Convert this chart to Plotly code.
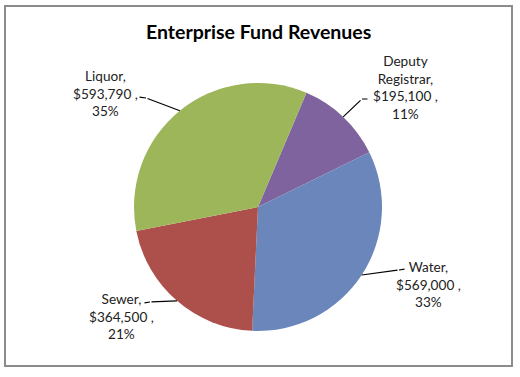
import math
import plotly.graph_objects as go

# ---- data ----
categories = ["Deputy Registrar", "Water", "Sewer", "Liquor"]
values = [195100, 569000, 364500, 593790]
percent_labels = ["11%", "33%", "21%", "35%"]
label_lines = [["Deputy", "Registrar,", "$195,100 ,"], ["Water,", "$569,000 ,"],
               ["Sewer,", "$364,500 ,"], ["Liquor,", "$593,790 ,"]]
colors = ["#7F639E", "#6A86BA", "#AD4F4A", "#9DB65A"]

# ---- layout / style ----
W, H = 520, 377
CX, CY, R = 258, 207, 124          # pie centre and radius in pixels
ROTATION = 23
# label centre (px) and leader tail (px) per category
label_pos = {"Deputy Registrar": (405, 87), "Water": (428, 284),
             "Sewer": (121, 316), "Liquor": (105, 94)}
leader_tail = {"Deputy Registrar": (369, 99), "Water": (406, 269),
               "Sewer": (143, 303), "Liquor": (138, 97)}
leader_knee = {"Deputy Registrar": (362, 99), "Water": (399, 270),
               "Sewer": (150, 302), "Liquor": (146, 98)}
FONT = "Lato, 'Open Sans', sans-serif"
TXT = "#222222"

fig = go.Figure(go.Pie(
    labels=categories, values=values, sort=False, direction="clockwise",
    rotation=ROTATION, marker=dict(colors=colors, line=dict(width=0)),
    textinfo="none", hoverinfo="label+value+percent", showlegend=False,
    domain=dict(x=[(CX - R) / W, (CX + R) / W], y=[1 - (CY + R) / H, 1 - (CY - R) / H]),
))

def px(x, y):
    return x / W, 1 - y / H

total = sum(values)
annotations = []
cum = 0
for cat, v, lines, pct in zip(categories, values, label_lines, percent_labels):
    mid = ROTATION + 360 * (cum + v / 2) / total
    cum += v
    ex = CX + R * math.sin(math.radians(mid))
    ey = CY - R * math.cos(math.radians(mid))
    kx, ky = leader_knee[cat]
    tx, ty = leader_tail[cat]
    x0, y0 = px(ex, ey)
    annotations.append(dict(x=x0, y=y0, xref="paper", yref="paper", text="",
                            showarrow=True, arrowhead=0, arrowwidth=1.2, arrowcolor="#000",
                            ax=kx - ex, ay=ky - ey))
    x1, y1 = px(kx, ky)
    annotations.append(dict(x=x1, y=y1, xref="paper", yref="paper", text="",
                            showarrow=True, arrowhead=0, arrowwidth=1.2, arrowcolor="#000",
                            ax=tx - kx, ay=ty - ky))
    lx, ly = label_pos[cat]
    x2, y2 = px(lx, ly)
    annotations.append(dict(x=x2, y=y2, xref="paper", yref="paper",
                            text="<br>".join(lines + [pct]), showarrow=False,
                            xanchor="center", yanchor="middle", align="center",
                            font=dict(family=FONT, size=13.6, color=TXT)))

annotations.append(dict(x=CX / W, y=1 - 31 / H, xref="paper", yref="paper",
                        text="<b>Enterprise Fund Revenues</b>", showarrow=False,
                        xanchor="center", yanchor="middle",
                        font=dict(family=FONT, size=19.5, color="#000")))

fig.update_layout(
    width=W, height=H, margin=dict(l=0, r=0, t=0, b=0),
    paper_bgcolor="white", plot_bgcolor="white",
    annotations=annotations,
    shapes=[dict(type="rect", xref="paper", yref="paper",
                 x0=5 / W, x1=512 / W, y0=1 - 366 / H, y1=1 - 6 / H,
                 line=dict(color="#8C8C8C", width=2), fillcolor="rgba(0,0,0,0)")],
)

fig.write_html("out.html", config={"displayModeBar": False},
               post_script="document.body.style.margin='0px';document.body.style.overflow='hidden';")
